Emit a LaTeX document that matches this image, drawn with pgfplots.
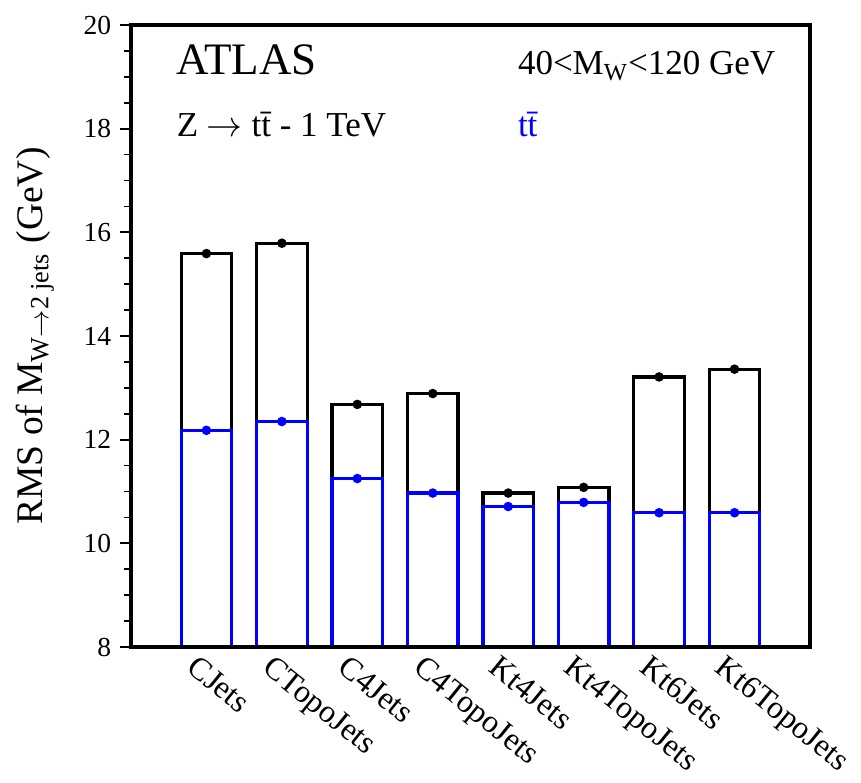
\documentclass[border=0pt]{standalone}
\usepackage{pgfplots}
\pgfplotsset{compat=1.18}
\usepackage{fontspec}
\setmainfont{Liberation Serif}
\pgfplotstableread{
x black blue
0 15.59 12.18
1 15.79 12.35
2 12.68 11.25
3 12.89 10.97
4 10.97 10.71
5 11.08 10.79
6 13.21 10.59
7 13.36 10.59
}\datatable
\begin{document}
\begin{tikzpicture}
\useasboundingbox (-52.4bp,-54.4bp) rectangle (292bp,258.8bp);
\begin{axis}[
 at={(0,0)}, anchor=south west,
 scale only axis, width=271.6bp, height=248.8bp,
 xmin=-1, xmax=8, ymin=8, ymax=20,
 ytick={8,10,...,20}, minor y tick num=3,
 ytick pos=left, tick align=outside,
 major tick length=4.4bp, minor tick length=2.8bp,
 xtick={0,...,7},
 xticklabels={CJets,CTopoJets,C4Jets,C4TopoJets,Kt4Jets,Kt4TopoJets,Kt6Jets,Kt6TopoJets},
 x tick style={draw=none},
 y tick style={black, line width=0.7bp},
 axis line style={line width=1.4bp},
 axis on top,
 /pgf/number format/assume math mode=true,
 yticklabel style={font=\fontsize{11bp}{12bp}\selectfont},
 xticklabel style={font=\fontsize{12.8bp}{14bp}\selectfont, xshift=-3bp, yshift=1.8bp, rotate=-39, anchor=north west, inner sep=0pt},
 ylabel={RMS of M\textsubscript{W$\rightarrow$2 jets} (GeV)},
 ylabel style={font=\fontsize{15bp}{17bp}\selectfont, at={(axis description cs:-0.141,0.5)}, anchor=center},
]
\addplot[ybar, bar width=0.67, bar shift=0pt, draw=black, fill=white, line width=1.3bp] table[x=x, y=black] {\datatable};
\addplot[only marks, mark=*, mark size=1.7bp, black] table[x=x, y=black] {\datatable};
\addplot[ybar, bar width=0.67, bar shift=0pt, draw=blue, fill=white, line width=1.3bp] table[x=x, y=blue] {\datatable};
\addplot[only marks, mark=*, mark size=1.7bp, blue] table[x=x, y=blue] {\datatable};
\node[anchor=base west, font=\fontsize{18bp}{20bp}\selectfont] at (axis description cs:0.0545,0.92) {ATLAS};
\node[anchor=base west, font=\fontsize{14bp}{16bp}\selectfont] at (axis description cs:0.0545,0.82) {Z $\rightarrow$ t\=t - 1 TeV};
\node[anchor=base west, font=\fontsize{14bp}{16bp}\selectfont] at (axis description cs:0.557,0.92) {40<M\textsubscript{W}<120 GeV};
\node[anchor=base west, text=blue, font=\fontsize{14bp}{16bp}\selectfont] at (axis description cs:0.557,0.82) {t\=t};
\end{axis}
\end{tikzpicture}
\end{document}
